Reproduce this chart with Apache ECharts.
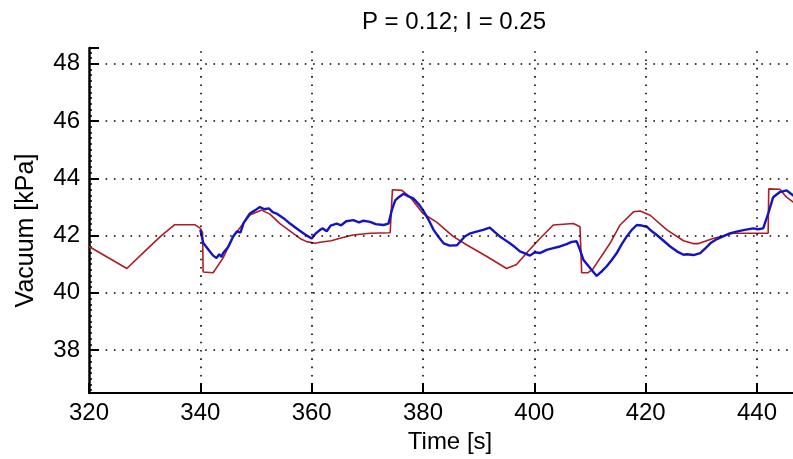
<!DOCTYPE html>
<html>
<head>
<meta charset="utf-8">
<script src="https://cdn.jsdelivr.net/npm/echarts@6/dist/echarts.min.js"></script>
<style>html,body{margin:0;padding:0;background:#fff}#c{width:793px;height:459px}</style>
</head>
<body>
<div id="c"></div>
<script>
var titleText = 'P = 0.12; I = 0.25';
var xName = 'Time [s]';
var yName = 'Vacuum [kPa]';
var yGridValues = [38, 40, 42, 44, 46, 48];
var xGridValues = [340, 360, 380, 400, 420, 440];

var setpointT = [320, 326.8, 330, 333, 335.4, 339, 340, 340.4, 340.5, 342.3, 344.1, 345.9, 348.9, 351, 352.5, 354.3, 357.9, 359.1, 360.6, 361.5, 363.5, 365.1, 367.4, 370.5, 374.1, 374.5, 376.2, 377.7, 380, 382.5, 385.4, 387.8, 391.4, 395, 396.8, 398.6, 401, 403.4, 407, 408.2, 408.5, 409.6, 410.5, 413.6, 415.4, 417.8, 419, 420.8, 423.8, 426.8, 428.5, 429.5, 432.1, 435.7, 442, 442.1, 444.1, 445.3, 446.5, 447.5];
var setpointV = [41.62, 40.85, 41.45, 42.0, 42.38, 42.38, 42.25, 42.1, 40.73, 40.7, 41.22, 41.97, 42.72, 42.89, 42.75, 42.42, 41.9, 41.79, 41.73, 41.77, 41.82, 41.91, 42.02, 42.08, 42.1, 43.6, 43.58, 43.34, 42.77, 42.46, 41.97, 41.68, 41.28, 40.85, 40.99, 41.39, 41.9, 42.37, 42.42, 42.31, 40.7, 40.7, 40.83, 41.73, 42.37, 42.83, 42.86, 42.71, 42.2, 41.82, 41.72, 41.72, 41.9, 42.08, 42.08, 43.63, 43.62, 43.34, 43.17, 43.05];

var measT = [340.0, 340.5, 341.5, 342.3, 342.9, 343.4, 343.8, 344.1, 345, 345.9, 346.6, 347.2, 347.8, 348.9, 349.8, 350.7, 351.5, 352.3, 353, 353.7, 355, 356.1, 357.3, 358.5, 359.3, 360, 360.6, 361.5, 362, 362.7, 363.4, 364.5, 365.3, 366.2, 367.5, 368.5, 369.3, 370.5, 371.5, 372.9, 373.8, 374.4, 375, 375.7, 376.5, 377.3, 378.3, 379.2, 380, 381, 381.9, 382.8, 383.7, 384.8, 386.1, 387.5, 388.5, 389.6, 390.8, 392, 392.9, 393.8, 394.7, 395.6, 396.5, 397.4, 398.3, 399.2, 400.1, 401, 402.2, 403.4, 404.6, 405.8, 406.7, 407.6, 408.2, 408.8, 410, 411.2, 412.1, 413, 413.9, 414.8, 415.7, 416.6, 417.5, 418.4, 419.3, 420.2, 421.1, 422, 423.2, 424.4, 425.6, 426.8, 427.4, 428.6, 429.8, 430.7, 431.6, 432.8, 433.9, 435.1, 436.3, 437.8, 439.3, 440.2, 441.1, 442, 442.9, 444.1, 445.3, 446.5, 447.5];
var measV = [42.2, 41.75, 41.5, 41.3, 41.22, 41.35, 41.25, 41.39, 41.6, 41.97, 42.15, 42.1, 42.45, 42.77, 42.88, 43.0, 42.92, 42.95, 42.82, 42.77, 42.6, 42.42, 42.25, 42.08, 41.98, 41.9, 42.05, 42.2, 42.25, 42.15, 42.35, 42.42, 42.36, 42.5, 42.54, 42.46, 42.52, 42.48, 42.4, 42.37, 42.42, 42.89, 43.23, 43.35, 43.46, 43.38, 43.29, 43.1, 42.89, 42.55, 42.2, 41.95, 41.73, 41.65, 41.66, 41.97, 42.08, 42.14, 42.2, 42.28, 42.12, 41.97, 41.85, 41.73, 41.6, 41.45, 41.38, 41.3, 41.42, 41.39, 41.5, 41.56, 41.62, 41.7, 41.78, 41.8, 41.5, 41.16, 40.87, 40.59, 40.75, 40.93, 41.15, 41.39, 41.7, 41.97, 42.2, 42.37, 42.35, 42.31, 42.15, 42.02, 41.82, 41.62, 41.45, 41.33, 41.35, 41.32, 41.39, 41.55, 41.73, 41.88, 41.97, 42.08, 42.14, 42.2, 42.25, 42.22, 42.25, 42.77, 43.34, 43.52, 43.58, 43.4, 43.25];

function pairs(a, b) { return a.map(function (t, i) { return [t, b[i]]; }); }

var FONT = 'Liberation Sans';
var dotted = { color: '#000', width: 1.6, type: [1.6, 6.7] };

var chart = echarts.init(document.getElementById('c'), null, { renderer: 'canvas' });
chart.setOption({
  animation: false,
  backgroundColor: '#fff',
  title: {
    text: titleText, left: 449, top: 5, textAlign: 'center',
    textStyle: { fontFamily: FONT, fontSize: 24, fontWeight: 'normal', color: '#000' }
  },
  grid: { left: 89, top: 48, right: 0, bottom: 61, containLabel: false },
  xAxis: {
    type: 'value', min: 320, max: 446.46, interval: 20,
    name: xName, nameLocation: 'middle', nameGap: 32,
    nameTextStyle: { fontFamily: FONT, fontSize: 24, color: '#000', padding: [0, 0, 0, 18] },
    axisLine: { show: true, onZero: false, lineStyle: { color: '#000', width: 2 } },
    axisTick: { show: true, inside: true, length: 10, lineStyle: { color: '#000', width: 2 } },
    axisLabel: { fontFamily: FONT, fontSize: 24, color: '#000', margin: 8, showMaxLabel: false,
      formatter: function (v) { return (Math.abs(v % 20) < 1e-6) ? String(v) : ''; } },
    splitLine: { show: false }
  },
  yAxis: {
    type: 'value', min: 36.5, max: 48.55, splitNumber: 6,
    name: yName, nameLocation: 'middle', nameGap: 50, nameRotate: 90,
    nameTextStyle: { fontFamily: FONT, fontSize: 25, color: '#000', padding: [0, 20, 0, 0] },
    axisLine: { show: true, onZero: false, lineStyle: { color: '#000', width: 2.5 } },
    axisTick: { show: true, inside: true, length: 10, lineStyle: { color: '#000', width: 2 } },
    minorTick: { show: true, splitNumber: 10, length: 3, lineStyle: { color: '#000', width: 1.5 } },
    axisLabel: {
      fontFamily: FONT, fontSize: 24, color: '#000', margin: 9,
      showMinLabel: false, showMaxLabel: false,
      formatter: function (v) { return (Math.abs(v % 2) < 1e-6) ? String(v) : ''; }
    },
    splitLine: { show: false }
  },
  series: [
    {
      type: 'line', data: [], z: 1, silent: true,
      markLine: {
        silent: true, symbol: 'none', label: { show: false },
        lineStyle: dotted, animation: false,
        data: yGridValues.map(function (v) { return { yAxis: v }; })
          .concat(xGridValues.map(function (v) { return { xAxis: v }; }))
      }
    },
    {
      name: 'setpoint', type: 'line', data: pairs(setpointT, setpointV),
      showSymbol: false, z: 3,
      lineStyle: { color: '#b01c24', width: 1.6 }
    },
    {
      name: 'measured', type: 'line', data: pairs(measT, measV),
      showSymbol: false, z: 4,
      lineStyle: { color: '#1414c4', width: 2.4 }
    }
  ]
});
</script>
</body>
</html>
